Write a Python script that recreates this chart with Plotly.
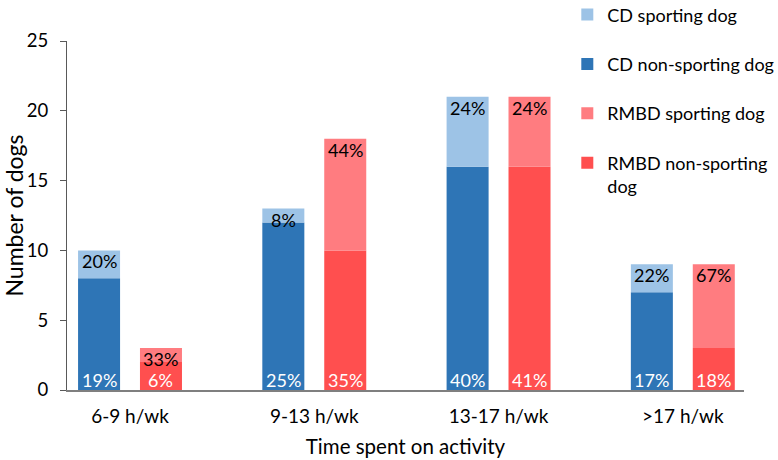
import plotly.graph_objects as go

categories = ["6-9 h/wk", "9-13 h/wk", "13-17 h/wk", ">17 h/wk"]
cd_non_sporting = [8, 12, 16, 7]
cd_sporting = [2, 1, 5, 2]
rmbd_non_sporting = [2, 10, 16, 3]
rmbd_sporting = [1, 8, 5, 6]
cd_non_pct = ["19%", "25%", "40%", "17%"]
cd_sp_pct = ["20%", "8%", "24%", "22%"]
rmbd_non_pct = ["6%", "35%", "41%", "18%"]
rmbd_sp_pct = ["33%", "44%", "24%", "67%"]

C_CD_SP = "#9DC3E6"
C_CD_NON = "#2E75B6"
C_RM_SP = "#FF7C80"
C_RM_NON = "#FF4F4F"

FONT = "Lato, 'Open Sans', sans-serif"
off = 0.168
bw = 0.228
idx = list(range(len(categories)))
x_cd = [i - off for i in idx]
x_rm = [i + off for i in idx]

fig = go.Figure()
fig.add_bar(x=x_cd, y=cd_non_sporting, name="CD non-sporting dog", marker_color=C_CD_NON,
            width=bw, legendrank=2, legendgroup="b", marker_line_width=0)
fig.add_bar(x=x_cd, y=cd_sporting, name="CD sporting dog", marker_color=C_CD_SP,
            width=bw, legendrank=1, legendgroup="a", marker_line_width=0)
fig.add_bar(x=x_rm, y=rmbd_non_sporting, name="RMBD non-sporting<br>dog", marker_color=C_RM_NON,
            width=bw, legendrank=4, legendgroup="d", marker_line_width=0)
fig.add_bar(x=x_rm, y=rmbd_sporting, name="RMBD sporting dog", marker_color=C_RM_SP,
            width=bw, legendrank=3, legendgroup="c", marker_line_width=0)

ann = []
for i in idx:
    for xx, lo, hi, plo, phi in [
        (x_cd[i], cd_non_sporting[i], cd_sporting[i], cd_non_pct[i], cd_sp_pct[i]),
        (x_rm[i], rmbd_non_sporting[i], rmbd_sporting[i], rmbd_non_pct[i], rmbd_sp_pct[i]),
    ]:
        ann.append(dict(x=xx, y=0, text=plo, showarrow=False, yanchor="bottom", yshift=-2,
                        borderpad=0, font=dict(color="white", size=18, family=FONT)))
        ann.append(dict(x=xx, y=lo + hi, text=phi, showarrow=False, yanchor="top", yshift=1,
                        borderpad=0, font=dict(color="black", size=18, family=FONT)))

fig.update_layout(
    barmode="relative",
    width=778, height=460,
    margin=dict(l=67, r=34, t=41, b=70, autoexpand=False),
    plot_bgcolor="white", paper_bgcolor="white",
    font=dict(family=FONT, size=18, color="black"),
    annotations=ann,
    legend=dict(x=0.739, y=1.128, xanchor="left", yanchor="top", traceorder="grouped",
                tracegroupgap=23, valign="top", font=dict(size=18), bgcolor="rgba(0,0,0,0)"),
    xaxis=dict(range=[-0.342, 3.332], tickvals=idx, ticktext=categories, showline=True,
               linecolor="#7f7f7f", linewidth=1.5, ticks="", showgrid=False, zeroline=False,
               ticklabelstandoff=8,
               title=dict(text="Time spent on activity", font=dict(size=20.5), standoff=14),
               tickfont=dict(size=19)),
    yaxis=dict(range=[0, 25], tickvals=[0, 5, 10, 15, 20, 25], showline=True,
               linecolor="#595959", linewidth=1.2, ticks="outside", ticklen=6,
               tickcolor="#595959", showgrid=False, zeroline=False, ticklabelstandoff=8,
               title=dict(text="Number of dogs", font=dict(size=23), standoff=8),
               tickfont=dict(size=18.5)),
)
fig.write_html("out.html")
